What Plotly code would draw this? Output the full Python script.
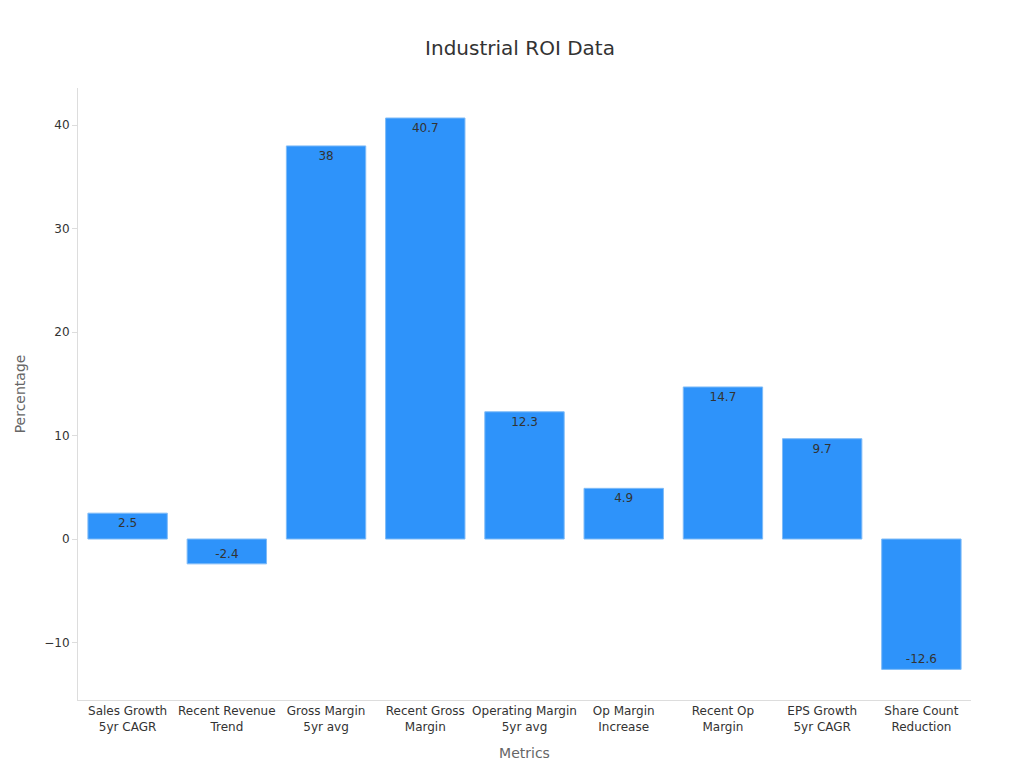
import plotly.graph_objects as go

categories = ["Sales Growth<br>5yr CAGR", "Recent Revenue<br>Trend", "Gross Margin<br>5yr avg",
              "Recent Gross<br>Margin", "Operating Margin<br>5yr avg", "Op Margin<br>Increase",
              "Recent Op<br>Margin", "EPS Growth<br>5yr CAGR", "Share Count<br>Reduction"]
values = [2.5, -2.4, 38, 40.7, 12.3, 4.9, 14.7, 9.7, -12.6]
labels = ["2.5", "-2.4", "38", "40.7", "12.3", "4.9", "14.7", "9.7", "-12.6"]

fig = go.Figure(go.Bar(
    x=categories, y=values, text=labels, textposition="inside", insidetextanchor="end",
    textfont=dict(color="#333333", size=12), textangle=0,
    marker=dict(color="#2E93FA", line=dict(color="#7FBBF7", width=1)),
))
fig.update_layout(
    width=1024, height=768,
    title=dict(text="Industrial ROI Data", x=0.5, y=0.957, xanchor="center",
               font=dict(size=20, color="#333333")),
    font=dict(family="DejaVu Sans", size=12, color="#333333"),
    paper_bgcolor="white", plot_bgcolor="white",
    margin=dict(l=70, r=61, t=80, b=76),
    bargap=0.2, showlegend=False,
    xaxis=dict(title=dict(text="Metrics", font=dict(size=14, color="#666666")),
               showline=True, linecolor="#dddddd", showgrid=False, ticks=""),
    yaxis=dict(title=dict(text="Percentage", font=dict(size=14, color="#666666")),
               range=[-15.56, 43.6], showline=True, linecolor="#dddddd", showgrid=False,
               zeroline=False, ticks="outside", ticklen=5, tickcolor="#dddddd",
               tickvals=[-10, 0, 10, 20, 30, 40]),
)
fig.write_html("out.html")
